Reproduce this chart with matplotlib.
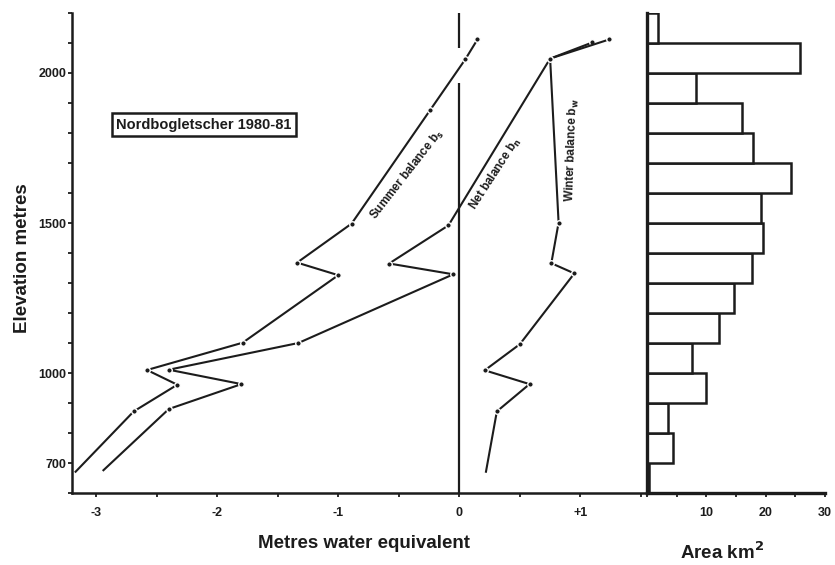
import numpy as np
import matplotlib
matplotlib.use("Agg")
import matplotlib.pyplot as plt

plt.rcParams['font.family'] = ['Liberation Sans', 'DejaVu Sans']
plt.rcParams['font.weight'] = 'bold'
plt.rcParams['axes.labelweight'] = 'bold'

INK = '#1c1c1c'

# Balance profiles (m w.e.) against elevation (m)
summer_elev = [2112, 2046, 1877, 1498, 1368, 1326, 1101, 1010, 961, 872, 671]
summer_bal = [0.15, 0.05, -0.24, -0.89, -1.34, -1.00, -1.79, -2.58, -2.33, -2.69, -3.17]

net_elev = [2102, 2048, 1492, 1365, 1329, 1100, 1011, 963, 880, 676]
net_bal = [1.10, 0.75, -0.09, -0.58, -0.05, -1.33, -2.40, -1.80, -2.40, -2.94]

winter_elev = [2112, 2048, 1501, 1366, 1332, 1096, 1009, 963, 872, 671]
winter_bal = [1.24, 0.75, 0.82, 0.76, 0.95, 0.50, 0.21, 0.58, 0.31, 0.22]

# Area-altitude distribution, 100 m bands (lower edge of band)
band_lo = [600, 700, 800, 900, 1000, 1100, 1200, 1300, 1400, 1500, 1600, 1700, 1800, 1900, 2000, 2100]
band_area = [0.3, 4.4, 3.6, 10.0, 7.6, 12.2, 14.7, 17.7, 19.6, 19.2, 24.3, 17.8, 16.0, 8.3, 25.7, 1.8]

elev_ticks = [700, 1000, 1500, 2000]
mwe_ticks = [-3, -2, -1, 0, 1]
mwe_tick_labels = ['-3', '-2', '-1', '0', '+1']
area_ticks = [10, 20, 30]

# zero line is broken where the summer curve crosses it
zero_lo = [600, 2083]
zero_hi = [1966, 2200]

fig = plt.figure(figsize=(8.35, 5.65), dpi=100)
ax = fig.add_axes([0.0862, 0.1274, 0.6886, 0.8496])
axh = fig.add_axes([0.7749, 0.1274, 0.2132, 0.8496])

line_kw = dict(color=INK, lw=1.5, marker='o', ms=4, mfc=INK, mec='white', mew=1.0)
ax.plot(summer_bal, summer_elev, markevery=list(range(len(summer_bal) - 1)), **line_kw)
ax.plot(net_bal, net_elev, markevery=list(range(len(net_bal) - 1)), **line_kw)
ax.plot(winter_bal, winter_elev, markevery=list(range(len(winter_bal) - 1)), **line_kw)
ax.vlines([0] * len(zero_lo), zero_lo, zero_hi, color=INK, lw=1.6)

# curve labels
ax.text(-0.43, 1660, 'Summer balance b$_\\mathbf{s}$', rotation=52, ha='center', va='center',
        rotation_mode='anchor', fontsize=8.5, color=INK)
ax.text(0.30, 1664, 'Net balance b$_\\mathbf{n}$', rotation=57, ha='center', va='center',
        rotation_mode='anchor', fontsize=8.5, color=INK)
ax.text(0.93, 1742, 'Winter balance b$_\\mathbf{w}$', rotation=88, ha='center', va='center',
        rotation_mode='anchor', fontsize=8.5, color=INK)

ax.text(-2.11, 1828, 'Nordbogletscher 1980-81', ha='center', va='center', fontsize=10.5, color=INK,
        bbox=dict(boxstyle='square,pad=0.3', fc='white', ec=INK, lw=1.8))

ax.set_xlim(-3.2, 1.55)
ax.set_ylim(600, 2200)
ax.set_xticks(mwe_ticks, labels=mwe_tick_labels)
ax.set_xticks(np.arange(-3, 1.51, 0.5), minor=True)
ax.set_yticks(elev_ticks)
ax.set_yticks(np.arange(600, 2201, 100), minor=True)
for s in ['top', 'right']:
    ax.spines[s].set_visible(False)
for s in ['left', 'bottom']:
    ax.spines[s].set_linewidth(1.8)
    ax.spines[s].set_color(INK)
ax.tick_params(which='both', direction='out', length=3, width=1.3, colors=INK, labelsize=9)
ax.tick_params(axis='x', pad=7)
ax.tick_params(axis='y', pad=1)
ax.set_xlabel('Metres water equivalent', fontsize=13.5, color=INK)
ax.xaxis.set_label_coords(0.508, -0.088)
ax.set_ylabel('Elevation metres', fontsize=13.5, color=INK)
ax.yaxis.set_label_coords(-0.072, 0.49)

# area histogram
axh.barh(band_lo, band_area, height=100, align='edge', facecolor='white',
         edgecolor=INK, linewidth=1.8)
axh.set_xlim(0, 30)
axh.set_ylim(600, 2200)
axh.set_xticks(area_ticks)
axh.set_xticks(np.arange(0, 31, 5), minor=True)
axh.set_yticks([])
for s in ['top', 'right']:
    axh.spines[s].set_visible(False)
for s in ['left', 'bottom']:
    axh.spines[s].set_linewidth(2.4)
    axh.spines[s].set_color(INK)
axh.tick_params(which='both', direction='out', length=3, width=1.3, colors=INK, labelsize=9, pad=7)
axh.set_xlabel('Area km$^\\mathbf{2}$', fontsize=13.5, color=INK)
axh.xaxis.set_label_coords(0.42, -0.1)

fig.savefig('out.png', dpi=100, facecolor='white')
